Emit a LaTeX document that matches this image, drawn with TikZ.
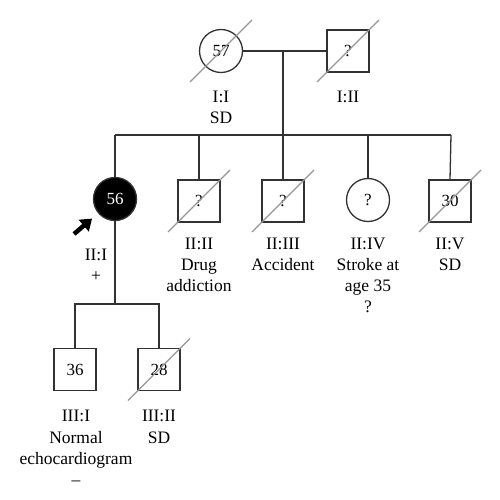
\documentclass[tikz,border=0pt]{standalone}
\usepackage{fontspec}
\setmainfont{Liberation Serif}
\usetikzlibrary{arrows.meta}
\definecolor{slashgray}{RGB}{150,150,150}
\definecolor{linegray}{RGB}{50,50,50}
\tikzset{
  x=1pt,y=-1pt,
  person/.style={draw=linegray,line width=1.3pt,inner sep=0pt,
    font=\fontsize{17}{20}\selectfont},
  male/.style={person,rectangle,minimum size=42pt},
  female/.style={person,circle,minimum size=43pt},
  affected/.style={fill=black,text=white},
  lbl/.style={align=center,anchor=base,inner sep=0pt,
    font=\fontsize{17.5}{21.3}\selectfont},
  tie/.style={draw=linegray,line width=1.3pt},
  slash/.style={draw=slashgray,line width=1.1pt},
  probandarrow/.style={line width=4.5pt,-{Triangle[length=11pt,width=15pt]},shorten >=8pt}
}
\begin{document}
\begin{tikzpicture}
\useasboundingbox (0,0) rectangle (500,500);
% Generation I
\node[female] (i1) at (221,51) {57};
\node[male] (i2) at (348,51) {?};
% Generation II
\node[female,affected] (ii1) at (115,199) {56};
\node[male] (ii2) at (199,201) {?};
\node[male] (ii3) at (283,201) {?};
\node[female] (ii4) at (368,200) {?};
\node[male] (ii5) at (450,201) {30};
% Generation III
\node[male] (iii1) at (75,369.5) {36};
\node[male] (iii2) at (159,369.5) {28};
% connectors
\coordinate (m1) at (283,51);
\coordinate (sibL) at (115,135);
\coordinate (sibR) at (451,135);
\coordinate (sib3) at (115,304);
\draw[tie] (i1) -- (i2);
\draw[tie] (m1) -- (m1 |- sibL);
\draw[tie] (sibL) -- (sibR);
\draw[tie] (ii1) -- (sibL);
\draw[tie] (ii2.north) -- (ii2.north |- sibL);
\draw[tie] (ii3.north) -- (ii3.north |- sibL);
\draw[tie] (ii4.north) -- (ii4.north |- sibL);
\draw[tie] (ii5.north) -- (sibR);
\draw[tie] (ii1) -- (sib3);
\draw[tie] (iii1.north) -- (iii1.north |- sib3) -- (iii2.north |- sib3) -- (iii2.north);
% deceased slashes
\foreach \n in {i1,i2,ii2,ii3,ii5,iii2}{
  \draw[slash] (\n.center) ++(-31,31) -- ++(62,-62);
}
% proband arrow
\coordinate (arrT) at (74,234);
\draw[probandarrow] (arrT) -- (ii1);
% labels (anchor = baseline of the last line)
\node[lbl] (l1) at (221,124) {I:I\\SD};
\node[lbl] (l2) at (348,102.7) {I:II};
\node[lbl] (l3) at (96,281.3) {II:I\\+};
\node[lbl] (l4) at (199,291.6) {II:II\\Drug\\addiction};
\node[lbl] (l5) at (283,270.3) {II:III\\Accident};
\node[lbl] (l6) at (368,312.9) {II:IV\\Stroke at\\age 35\\?};
\node[lbl] (l7) at (450,270.3) {II:V\\SD};
\node[lbl] (l8) at (76,485.6) {III:I\\Normal\\echocardiogram\\–};
\node[lbl] (l9) at (159,443) {III:II\\SD};
\end{tikzpicture}
\end{document}
